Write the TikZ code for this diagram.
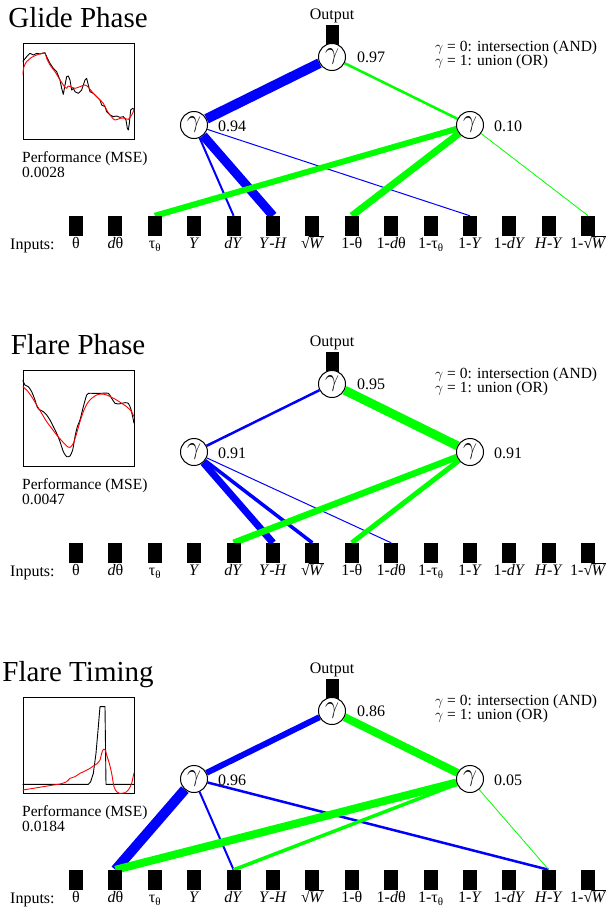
\documentclass[tikz,border=0pt]{standalone}
\usepackage{fontspec}
\setmainfont{Liberation Serif}
\definecolor{eblue}{RGB}{0,0,255}
\definecolor{egreen}{RGB}{0,255,0}
\pgfdeclarelayer{bg}
\pgfsetlayers{bg,main}
\newcommand\sqW{√\kern-0.6pt\vbox{\hrule height 0.6pt\kern1.2pt\hbox{\textit{W}}}}
\newcommand\lowsub[1]{\raisebox{-3pt}{\fontsize{11}{11}\selectfont #1}}
\tikzset{
 gam/.style={circle, draw, line width=1pt, fill=white, minimum size=27pt, inner sep=0pt, font=\fontsize{23}{23}\selectfont},
 inbox/.style={rectangle, fill=black, minimum width=14pt, minimum height=20pt, inner sep=0pt},
 outbar/.style={rectangle, fill=black, minimum width=13pt, minimum height=20pt, inner sep=0pt},
 txt/.style={inner sep=0pt, font=\fontsize{16}{16}\selectfont},
 legtxt/.style={inner sep=0pt, font=\fontsize{15.5}{15.5}\selectfont},
 ttl/.style={inner sep=0pt, font=\fontsize{29}{29}\selectfont, anchor=base},
 plotbox/.style={draw, line width=0.9pt, minimum width=111pt, minimum height=96pt, inner sep=0pt},
 bl/.style={draw=eblue, line cap=butt},
 gr/.style={draw=egreen, line cap=butt},
 curveK/.style={draw=black, line width=0.9pt, line join=round},
 curveR/.style={draw=red, line width=0.9pt, line join=round},
}
\newcommand\basepanel[6]{%
 \node[ttl] (#1title) at (78,27) {#2};
 \node[plotbox] (#1plot) at (78.5,91) {};
 \node[legtxt,anchor=base west] (#1perf) at (22,162) {Performance (MSE)};
 \node[legtxt,anchor=base west] (#1mse) at (22,177) {#3};
 \node[txt,anchor=base] (#1outlbl) at (332,19) {Output};
 \node[outbar] (#1outbar) at (332,35) {};
 \node[gam] (#1top) at (332,57) {$\gamma$};
 \node[gam] (#1L) at (194,125) {$\gamma$};
 \node[gam] (#1R) at (470,125) {$\gamma$};
 \node[txt,anchor=base west] (#1topv) at (357,62) {#4};
 \node[txt,anchor=base west] (#1Lv) at (218,131) {#5};
 \node[txt,anchor=base west] (#1Rv) at (494,131) {#6};
 \node[legtxt,anchor=base west] (#1legA) at (435,51.5) {$\gamma$ = 0: intersection (AND)};
 \node[legtxt,anchor=base west] (#1legB) at (435,65.5) {$\gamma$ = 1: union (OR)};
 \node[txt,anchor=base west] (#1inputs) at (10,249) {Inputs:};
 \foreach \i/\t in {0/θ, 1/{\textit{d}θ}, 2/{τ\lowsub{θ}}, 3/{\textit{Y}}, 4/{\textit{dY}},
   5/{\textit{Y}-\textit{H}}, 6/{\sqW}, 7/{1-θ}, 8/{1-\textit{d}θ}, 9/{1-τ\lowsub{θ}},
   10/{1-\textit{Y}}, 11/{1-\textit{dY}}, 12/{\textit{H}-\textit{Y}}, 13/{1-\sqW}} {
   \node[inbox] (#1in\i) at ({76+39.4*\i},226) {};
   \node[txt,anchor=base] (#1lab\i) at ({76+39.4*\i},248) {\t};
 }
}
\begin{document}
\begin{tikzpicture}[x=1pt,y=-1pt]
\useasboundingbox (0,0) rectangle (611,911);

% ---------------- Panel 1 ----------------
\begin{scope}
\basepanel{a}{Glide Phase}{0.0028}{0.97}{0.94}{0.10}
\begin{scope}
\clip (aplot.south west) rectangle (aplot.north east);
\begin{scope}[scale=1/3]
\draw[curveK] (68,185) -- (80,170) -- (90,160) -- (100,165) -- (110,160) -- (120,162) -- (135,158) -- (140,170) -- (150,190) -- (160,205) -- (170,215) -- (180,240) -- (185,265) -- (190,283) -- (195,255) -- (200,230) -- (205,228) -- (210,240) -- (215,270) -- (220,265) -- (225,275) -- (235,280) -- (245,270) -- (255,240) -- (260,235) -- (265,255) -- (270,275) -- (280,280) -- (290,290) -- (300,300) -- (305,315) -- (315,320) -- (320,335) -- (330,345) -- (340,350) -- (350,348) -- (360,352) -- (370,350) -- (378,360) -- (382,385) -- (385,390) -- (388,370) -- (392,330) -- (398,325) -- (402,328);
\draw[curveR] plot[smooth, tension=0.5] coordinates {(68,225) (72,200) (80,185) (95,172) (110,165) (125,160) (135,160) (140,175) (150,195) (165,215) (180,240) (190,255) (195,262) (200,265) (205,258) (215,262) (225,265) (240,260) (255,255) (265,262) (280,280) (295,295) (310,310) (320,330) (330,345) (345,360) (360,355) (375,355) (385,358) (395,345) (402,330)};
\end{scope}
\end{scope}
\begin{pgfonlayer}{bg}
\draw[bl, line width=10pt] (atop) -- (aL);
\draw[gr, line width=2.5pt] (atop) -- (aR);
\draw[bl, line width=2pt] (aL) -- (ain4.north);
\draw[bl, line width=9pt] (aL) -- (ain5.north);
\draw[bl, line width=1pt] (aL) -- (ain10.north);
\draw[gr, line width=6pt] (aR) -- (ain2.north);
\draw[gr, line width=7pt] (aR) -- (ain7.north);
\draw[gr, line width=0.8pt] (aR) -- (ain13.north);
\end{pgfonlayer}
\end{scope}

% ---------------- Panel 2 ----------------
\begin{scope}[shift={(0,327)}]
\basepanel{b}{Flare Phase}{0.0047}{0.95}{0.91}{0.91}
\begin{scope}
\clip (bplot.south west) rectangle (bplot.north east);
\begin{scope}[shift={(0,-7)},scale=1/3]
\draw[curveK] plot[smooth, tension=0.4] coordinates {(68,180) (75,195) (85,200) (95,215) (105,240) (112,262) (120,270) (130,275) (140,285) (150,300) (160,320) (170,340) (180,365) (190,395) (200,410) (210,408) (218,390) (225,350) (232,320) (240,300) (250,260) (260,225) (265,220) (280,220) (300,220) (325,220) (335,235) (345,250) (355,252) (365,250) (375,248) (385,250) (392,265) (398,290) (402,310)};
\draw[curveR] plot[smooth, tension=0.5] coordinates {(68,200) (80,210) (95,230) (110,255) (125,280) (140,305) (155,325) (170,345) (185,362) (200,378) (210,382) (220,370) (230,340) (240,305) (250,275) (262,250) (275,235) (290,225) (305,222) (320,225) (335,232) (350,240) (365,250) (380,260) (395,275) (402,290)};
\end{scope}
\end{scope}
\begin{pgfonlayer}{bg}
\draw[bl, line width=2.5pt] (btop) -- (bL);
\draw[gr, line width=9pt] (btop) -- (bR);
\draw[bl, line width=7pt] (bL) -- (bin5.north);
\draw[bl, line width=3.5pt] (bL) -- (bin6.north);
\draw[bl, line width=1pt] (bL) -- (bin8.north);
\draw[gr, line width=6.5pt] (bR) -- (bin4.north);
\draw[gr, line width=5pt] (bR) -- (bin7.north);
\end{pgfonlayer}
\end{scope}

% ---------------- Panel 3 ----------------
\begin{scope}[shift={(0,654)}]
\basepanel{c}{Flare Timing}{0.0184}{0.86}{0.96}{0.05}
\begin{scope}
\clip (cplot.south west) rectangle (cplot.north east);
\begin{scope}[shift={(0,-14)},scale=1/3]
\draw[curveK] (68,433) -- (265,433) -- (272,425) -- (280,400) -- (288,340) -- (295,260) -- (300,200) -- (315,200) -- (318,433) -- (402,433);
\draw[curveR] plot[smooth, tension=0.4] coordinates {(68,450) (100,445) (130,440) (160,435) (180,432) (200,425) (210,415) (225,410) (240,400) (255,393) (270,385) (280,378) (290,372) (300,360) (305,340) (310,328) (315,328) (320,345) (328,370) (335,400) (342,440) (350,455) (360,460) (375,458) (385,450) (395,430) (402,398)};
\end{scope}
\end{scope}
\begin{pgfonlayer}{bg}
\draw[bl, line width=6pt] (ctop) -- (cL);
\draw[gr, line width=8pt] (ctop) -- (cR);
\draw[bl, line width=10pt] (cL) -- (cin1.north);
\draw[bl, line width=2pt] (cL) -- (cin4.north);
\draw[bl, line width=2.5pt] (cL) -- (cin12.north);
\draw[gr, line width=8pt] (cR) -- (cin1.north);
\draw[gr, line width=3.5pt] (cR) -- (cin4.north);
\draw[gr, line width=0.8pt] (cR) -- (cin12.north);
\end{pgfonlayer}
\end{scope}
\end{tikzpicture}
\end{document}
